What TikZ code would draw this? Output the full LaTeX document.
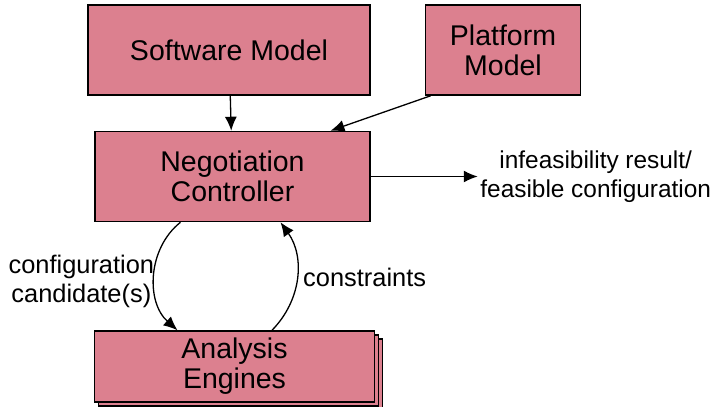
\documentclass[tikz,border=0pt]{standalone}
\usepackage{fontspec}
\setmainfont{Liberation Sans}
\usetikzlibrary{positioning, shadows, arrows.meta}
\definecolor{boxpink}{RGB}{220,128,143}
\tikzstyle{block} = [rectangle, draw, fill=boxpink, line width=0.75pt, align=center, minimum height=45pt, font=\fontsize{14.25}{15}\selectfont]
\tikzstyle{label} = [align=center, font=\fontsize{12.7}{14.5}\selectfont]

\begin{document}
\begin{tikzpicture}[x=0.5pt, y=-0.5pt, >={Latex[length=7pt,width=6pt]}, line width=0.65pt]
		\useasboundingbox (0,0) rectangle (718,407);
		% Modelle
		\node [block, minimum width=141pt] (softwaremodel) at (229,50) {Software Model};
		\node [block, minimum width=77.5pt, right=27pt of softwaremodel] (platformmodel) {Platform\\Model};
		
		% Controller
		\node [block, minimum width=137.5pt, below=17.5pt of softwaremodel, xshift=1.75pt] (controller) {Negotiation\\Controller};
		\node [label, font=\fontsize{12.2}{14.5}\selectfont, inner sep=1pt, right=53.5pt of controller] (result) {infeasibility result/\\feasible configuration};
		
		% Analyse
		\node [block, minimum width=140pt, minimum height=35.5pt, below=54pt of controller, xshift=1pt,
			double copy shadow={shadow xshift=2pt, shadow yshift=-2pt}] (engines) {Analysis\\Engines};
		
		\draw[->] (softwaremodel) -- (controller);
		\draw[->] ([xshift=3pt]platformmodel.south west) -- ([xshift=49pt]controller.north);
		\draw[->] (controller) -- (result);
		\draw[->] ([xshift=-26pt]controller.south) to[bend right=50] node[label, left, inner sep=0pt, yshift=-3pt] {configuration\\candidate(s)} ([xshift=-28.5pt]engines.north);
		\draw[->] ([xshift=18.75pt]engines.north) to[bend right=40] node[label, right, inner sep=3pt] {constraints} ([xshift=24pt]controller.south);
	\end{tikzpicture}
\end{document}
